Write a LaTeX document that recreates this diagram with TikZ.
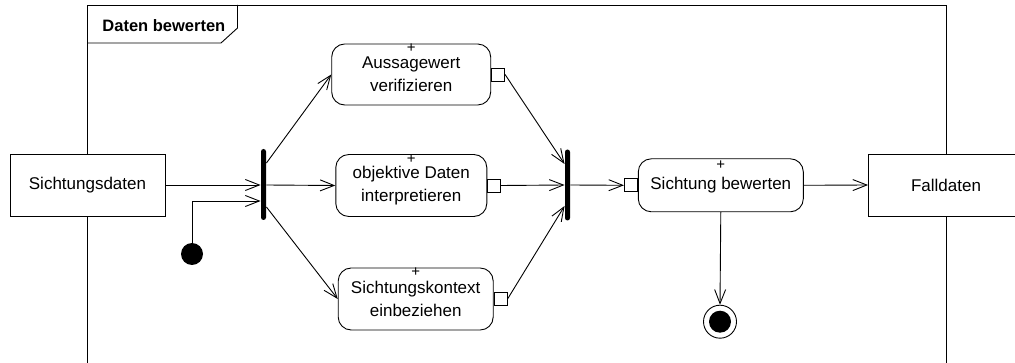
\documentclass[tikz,border=0pt]{standalone}
\usepackage{fontspec}
\setmainfont{Liberation Sans}
\usetikzlibrary{arrows.meta}

\tikzset{
	flow/.style={-{Straight Barb[length=14pt,width=11pt]}},
	action/.style={draw, fill=white, rounded corners=13pt, align=center, inner sep=0pt},
	objnode/.style={draw, fill=white, minimum width=155pt, minimum height=62pt, inner sep=0pt},
	pinbox/.style={draw, fill=white, minimum size=13pt, inner sep=0pt},
	barnode/.style={fill=black, minimum width=5pt, minimum height=71pt, inner sep=0pt, rounded corners=2.5pt},
	plus/.style={inner sep=0pt, font=\fontsize{15}{15}\selectfont},
}

\begin{document}
\begin{tikzpicture}[x=1pt, y=-1pt, line width=0.9pt, font=\fontsize{17}{23}\selectfont]
		\useasboundingbox (0,0) rectangle (1015,363);
		\clip (0,0) rectangle (1015,363);

		% frame
		\draw (87,363) -- (87,5) -- (946,5) -- (946,363);
		\draw (87,43) -- (221,43) -- (237.5,28) -- (237.5,5);
		\node[font=\fontsize{16.5}{20}\selectfont\bfseries, anchor=base west, inner sep=0pt] (title) at (102,31.5) {Daten bewerten};

		% parameters
		\node[objnode] (sdata) at (87.5,185) {Sichtungsdaten};
		\node[objnode] (fdata) at (946,185) {Falldaten};

		% fork and join
		\node[barnode] (fork) at (263.5,184.5) {};
		\node[barnode] (join) at (567.5,185) {};

		% actions
		\node[action, minimum width=159pt, minimum height=61pt] (verify) at (411.2,74.5) {Aussagewert\\verifizieren};
		\node[action, minimum width=151pt, minimum height=62pt] (interp) at (411.3,185.5) {objektive Daten\\interpretieren};
		\node[action, minimum width=155pt, minimum height=62pt] (context) at (415.7,299) {Sichtungskontext\\einbeziehen};
		\node[action, minimum width=165pt, minimum height=53pt] (assess) at (720.8,185.3) {Sichtung bewerten};

		\node[plus] (verifyplus) at ([yshift=-5pt]verify.north) {+};
		\node[plus] (interpplus) at ([yshift=-5pt]interp.north) {+};
		\node[plus] (contextplus) at ([yshift=-5pt]context.north) {+};
		\node[plus] (assessplus) at ([yshift=-7pt]assess.north) {+};

		% pins
		\node[pinbox, anchor=west] (verifypin) at (verify.east) {};
		\node[pinbox, anchor=west] (interppin) at (interp.east) {};
		\node[pinbox, anchor=west] (contextpin) at (context.east) {};
		\node[pinbox, anchor=east] (assesspin) at (assess.west) {};

		% initial and final
		\node[circle, fill=black, minimum size=22pt, inner sep=0pt] (start) at (192,254) {};
		\node[circle, draw, fill=white, minimum size=33pt, inner sep=0pt] (final) at (720,321.7) {};
		\node[circle, fill=black, minimum size=22pt, inner sep=0pt] (finaldot) at (final) {};

		% flows
		\draw[flow] (sdata.east) -- (sdata.east -| fork.west);
		\draw[flow] (start.north) |- (fork.west |- 0,201);

		\foreach \act/\y in {verify/163, interp/185, context/207}{
				\draw[flow] (fork.east |- 0,\y) -- (\act.west);
			}
		\foreach \act/\y in {verify/164, interp/185, context/206}{
				\draw[flow] (\act pin.east) -- (join.west |- 0,\y);
			}

		\draw[flow] (join.east) -- (assesspin.west);
		\draw[flow] (assess.east) -- (fdata.west);
		\draw[flow] (assess.south) -- (final.north);
	\end{tikzpicture}
\end{document}
